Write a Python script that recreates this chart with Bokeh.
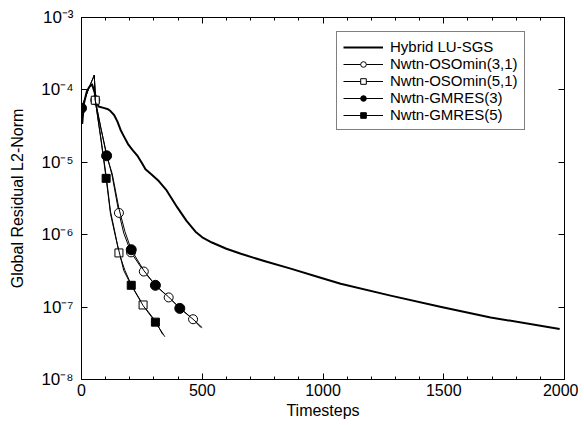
from bokeh.plotting import figure
from bokeh.models import (LinearAxis, LogAxis, FixedTicker, CustomJSTickFormatter,
                          Legend, LegendItem, Range1d)
from bokeh.embed import file_html
from bokeh.resources import INLINE

# ---------------- data ----------------
x_ticks = [0, 500, 1000, 1500, 2000]
x_minor = [100, 200, 300, 400, 600, 700, 800, 900, 1100, 1200, 1300, 1400,
           1600, 1700, 1800, 1900]
y_ticks = [1e-8, 1e-7, 1e-6, 1e-5, 1e-4, 1e-3]

hyb_x = [3, 10, 22, 32, 44, 54, 70, 95, 110, 120, 135, 148, 162, 175, 192,
         210, 231, 250, 265, 290, 320, 350, 396, 435, 472, 500, 540, 600, 660,
         760, 866, 980, 1073, 1280, 1490, 1694, 1980]
hyb_y = [3.4e-5, 6.5e-5, 9.5e-5, 1.1e-4, 1.19e-4, 9.3e-5, 5.9e-5, 5.6e-5,
         5.4e-5, 5.1e-5, 4.5e-5, 3.7e-5, 2.8e-5, 2.3e-5, 1.8e-5, 1.5e-5,
         1.24e-5, 9.8e-6, 8.0e-6, 6.8e-6, 5.5e-6, 4.2e-6, 2.4e-6, 1.55e-6,
         1.1e-6, 9.2e-7, 7.8e-7, 6.4e-7, 5.45e-7, 4.3e-7, 3.4e-7, 2.6e-7,
         2.1e-7, 1.44e-7, 1.0e-7, 7.2e-8, 5.0e-8]

# Nwtn-OSOmin(3,1)
os31_x = [53, 57, 80, 104, 127, 155, 175, 205, 258, 310, 361, 410, 462, 495]
os31_y = [1.6e-4, 7.2e-5, 3.0e-5, 1.3e-5, 6.5e-6, 2.0e-6, 1.05e-6, 5.7e-7,
          3.1e-7, 1.95e-7, 1.36e-7, 9.6e-8, 6.8e-8, 5.2e-8]
os31_mx = [57, 155, 205, 258, 361, 462]
os31_my = [7.2e-5, 2.0e-6, 5.7e-7, 3.1e-7, 1.36e-7, 6.8e-8]

# Nwtn-OSOmin(5,1)
os51_x = [53, 57, 80, 102, 120, 141, 155, 180, 207, 255, 306, 336]
os51_y = [1.6e-4, 7.2e-5, 2.2e-5, 6.5e-6, 2.1e-6, 9.8e-7, 5.6e-7, 3.2e-7,
          2.0e-7, 1.07e-7, 6.4e-8, 4.2e-8]
os51_mx = [57, 155, 255]
os51_my = [7.2e-5, 5.6e-7, 1.07e-7]

# Nwtn-GMRES(3)
gm3_x = [0, 30, 53, 57, 80, 104, 127, 155, 180, 206, 258, 306, 361, 407, 462, 500]
gm3_y = [5.6e-5, 1.05e-4, 1.6e-4, 7.2e-5, 3.0e-5, 1.23e-5, 7.0e-6, 2.3e-6,
         1.1e-6, 6.2e-7, 3.2e-7, 2.0e-7, 1.38e-7, 9.6e-8, 6.8e-8, 5.2e-8]
gm3_mx = [0, 104, 206, 306, 407]
gm3_my = [5.6e-5, 1.23e-5, 6.2e-7, 2.0e-7, 9.6e-8]

# Nwtn-GMRES(5)
gm5_x = [0, 30, 53, 57, 80, 102, 120, 141, 175, 206, 255, 306, 345]
gm5_y = [5.6e-5, 1.05e-4, 1.6e-4, 7.2e-5, 2.1e-5, 6.0e-6, 1.95e-6, 9.3e-7,
         3.2e-7, 2.0e-7, 1.05e-7, 6.2e-8, 3.9e-8]
gm5_mx = [102, 206, 306]
gm5_my = [6.0e-6, 2.0e-7, 6.2e-8]

labels = ["Hybrid LU-SGS", "Nwtn-OSOmin(3,1)", "Nwtn-OSOmin(5,1)",
          "Nwtn-GMRES(3)", "Nwtn-GMRES(5)"]

# ---------------- figure ----------------
FONT = "Liberation Sans"
p = figure(width=578, height=425, y_axis_type="log",
           x_range=Range1d(0, 2000), y_range=Range1d(1e-8, 1e-3),
           output_backend="svg", toolbar_location=None,
           min_border_left=81, min_border_top=17, min_border_right=14,
           min_border_bottom=46)
p.grid.visible = False
p.outline_line_color = "black"
p.outline_line_width = 1
p.background_fill_color = "white"
p.border_fill_color = "white"

sup = CustomJSTickFormatter(code="""
const e = Math.round(Math.log10(tick));
const m = {'-':'\u207b','0':'\u2070','1':'\u00b9','2':'\u00b2','3':'\u00b3','4':'\u2074','5':'\u2075','6':'\u2076','7':'\u2077','8':'\u2078','9':'\u2079'};
return '10' + String(e).split('').map(c => m[c]).join('');
""")

xt = FixedTicker(ticks=x_ticks, minor_ticks=x_minor)
yt = FixedTicker(ticks=y_ticks, minor_ticks=[])

def style(ax):
    ax.major_tick_in = 6
    ax.major_tick_out = 0
    ax.minor_tick_in = 3
    ax.minor_tick_out = 0
    ax.axis_line_color = "black"
    ax.major_tick_line_color = "black"
    ax.minor_tick_line_color = "black"
    ax.major_label_text_font = FONT
    ax.major_label_text_font_size = "16px"
    ax.major_label_text_color = "black"
    ax.axis_label_text_font = FONT
    ax.axis_label_text_font_size = "16px"
    ax.axis_label_text_font_style = "normal"
    ax.axis_label_text_color = "black"

xa = p.xaxis[0]
xa.ticker = xt
style(xa)
xa.axis_label = "Timesteps"
xa.major_label_standoff = 4
xa.axis_label_standoff = 3

ya = p.yaxis[0]
ya.ticker = yt
ya.formatter = sup
style(ya)
ya.major_label_text_font_size = "17px"
ya.axis_label = "Global Residual L2-Norm"
ya.major_label_standoff = 8
ya.axis_label_standoff = 12

blank = CustomJSTickFormatter(code="return ''")
top = LinearAxis(ticker=xt, formatter=blank)
style(top)
top.major_label_text_font_size = "0px"
top.major_label_standoff = 0
p.add_layout(top, "above")
right = LogAxis(ticker=yt, formatter=blank)
style(right)
right.major_label_text_font_size = "0px"
right.major_label_standoff = 0
p.add_layout(right, "right")

# ---------------- series ----------------
r_h = p.line(hyb_x, hyb_y, line_color="black", line_width=2, line_join="round")

l1 = p.line(os31_x, os31_y, line_color="black", line_width=1)
m1 = p.scatter(os31_mx, os31_my, marker="circle", size=9, fill_color="white",
               line_color="black", line_width=1)
l2 = p.line(os51_x, os51_y, line_color="black", line_width=1)
m2 = p.scatter(os51_mx, os51_my, marker="square", size=8, fill_color="white",
               line_color="black", line_width=1)
l3 = p.line(gm3_x, gm3_y, line_color="black", line_width=1)
m3 = p.scatter(gm3_mx, gm3_my, marker="circle", size=10, fill_color="black",
               line_color="black", line_width=1)
l4 = p.line(gm5_x, gm5_y, line_color="black", line_width=1)
m4 = p.scatter(gm5_mx, gm5_my, marker="square", size=8, fill_color="black",
               line_color="black", line_width=1)

legend = Legend(items=[
    LegendItem(label=labels[0], renderers=[r_h]),
    LegendItem(label=labels[1], renderers=[l1, m1]),
    LegendItem(label=labels[2], renderers=[l2, m2]),
    LegendItem(label=labels[3], renderers=[l3, m3]),
    LegendItem(label=labels[4], renderers=[l4, m4]),
], location=(255, 249))
legend.border_line_color = "black"
legend.border_line_width = 1
legend.background_fill_alpha = 1
legend.label_text_font = FONT
legend.label_text_font_size = "15px"
legend.label_text_color = "black"
legend.glyph_width = 40
legend.glyph_height = 14
legend.label_height = 14
legend.label_standoff = 7
legend.spacing = 0
legend.padding = 6
legend.margin = 0
legend.label_text_line_height = 1.0
p.add_layout(legend, "center")

open("out.html", "w").write(file_html(p, INLINE))
